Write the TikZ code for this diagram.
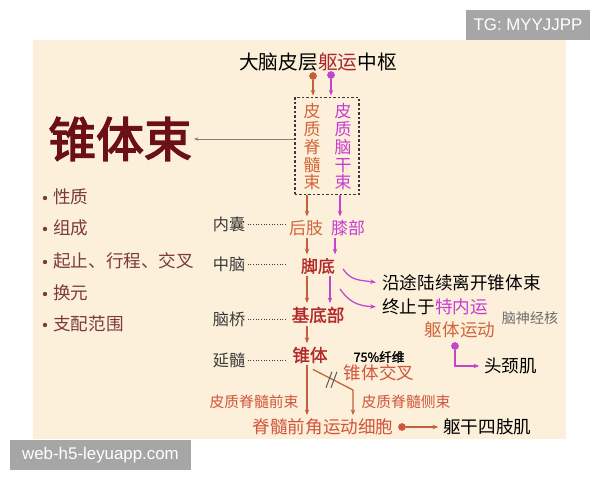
\documentclass[tikz,border=0pt]{standalone}
\usepackage{fontspec}
\newfontfamily\cjk{Noto Sans CJK SC}
\newfontfamily\cjkbf{Noto Sans CJK SC}[FakeBold=1.5]
\newfontfamily\cjkheavy{Noto Sans CJK SC}[FakeBold=3]
\newfontfamily\wmfont{Liberation Sans}
\usetikzlibrary{arrows.meta,calc}
\newcommand\setfs[1]{\fontsize{#1pt}{#1pt}\selectfont}

\definecolor{panelbg}{HTML}{FCF0DA}
\definecolor{darkred}{HTML}{B32828}
\definecolor{orangetxt}{HTML}{D2643C}
\definecolor{redorange}{HTML}{D2543A}
\definecolor{magtxt}{HTML}{C63CD2}
\definecolor{orangeline}{HTML}{C4603C}
\definecolor{magline}{HTML}{C444CC}
\definecolor{browntxt}{HTML}{7B3B3B}
\definecolor{labelgray}{HTML}{3A3A3A}
\definecolor{wmgray}{HTML}{A6A6A6}
\definecolor{titlered}{HTML}{6B1016}
\definecolor{qyred}{HTML}{A8282E}

\tikzset{
  txt/.style={inner sep=1.5pt, font=\cjk\setfs{12.5}},
  vtext/.style={inner sep=0pt, align=center, font=\cjk\fontsize{12pt}{12.6pt}\selectfont},
  lefttxt/.style={txt, font=\cjk\setfs{11.5}, text=labelgray},
  bullettxt/.style={txt, anchor=west, text=browntxt},
  dot/.style={circle, inner sep=0pt, minimum size=5.5pt},
  tip/.style={-{Stealth[length=4pt,width=3.2pt]}},
  oarr/.style={tip, line width=0.9pt, draw=orangeline, shorten >=1pt},
  marr/.style={tip, line width=0.9pt, draw=magline, shorten >=1pt},
  leader/.style={line width=0.7pt, labelgray, dash pattern=on 0.7pt off 1.2pt},
  wmbox/.style={fill=wmgray, text=white, inner sep=0pt, font=\wmfont\setfs{12}}
}

\begin{document}
\begin{tikzpicture}[x=0.025cm,y=-0.025cm]
\useasboundingbox (0,0) rectangle (600,480);

% Panel
\fill[panelbg] (33,40) rectangle (566,439);

% Watermarks
\node[wmbox, minimum width=3.1cm, minimum height=0.75cm] (tg) at (528,25) {TG: MYYJJPP};
\node[wmbox, minimum width=4.525cm, minimum height=0.75cm] (web) at (100.5,455) {web-h5-leyuapp.com};

% Title
\node[txt, font=\cjk\setfs{14}] (title) at (318,62) {大脑皮层\textcolor{qyred}{躯运}中枢};

% Marking the two origins
\node[dot, fill=orangeline] (dotL) at (313,76) {};
\node[dot, fill=magline] (dotR) at (331,75) {};

% Dashed box with both tracts
\node[draw=labelgray, line width=0.8pt, dash pattern=on 1.6pt off 1.6pt,
      minimum width=1.6cm, minimum height=2.425cm] (box) at (327,146) {};
\node[vtext, text=orangetxt] (pjs) at (312,147) {皮\\质\\脊\\髓\\束};
\node[vtext, text=magtxt] (pns) at (343,147) {皮\\质\\脑\\干\\束};
\draw[oarr] (dotL) -- (dotL |- box.north);
\draw[marr] (dotR) -- (dotR |- box.north);

% Big heading and bullets
\node[txt, font=\cjkheavy\setfs{34}, text=titlered] (zts) at (120,139) {锥体束};
\draw[line width=0.5pt, gray, {Stealth[length=3pt,width=2.4pt]}-] (zts.east) -- (zts.east -| box.west);

\node[bullettxt] (b1) at (51,197) {性质};
\node[bullettxt] (b2) at (51,228) {组成};
\node[bullettxt] (b3) at (51,261) {起止、行程、交叉};
\node[bullettxt] (b4) at (51,293) {换元};
\node[bullettxt] (b5) at (51,324) {支配范围};
\fill[browntxt] (45,198) circle (2.2);
\fill[browntxt] (45,229) circle (2.2);
\fill[browntxt] (45,262) circle (2.2);
\fill[browntxt] (45,294) circle (2.2);
\fill[browntxt] (45,325) circle (2.2);

% Levels on the left
\coordinate (lead) at (287,0);
\node[lefttxt] (nn) at (229,224) {内囊};
\node[lefttxt] (zn) at (229,264) {中脑};
\node[lefttxt] (nq) at (229,319) {脑桥};
\node[lefttxt] (ys) at (229,360) {延髓};
\draw[leader] (nn.east) -- (nn.east -| lead);
\draw[leader] (zn.east) -- (zn.east -| lead);
\draw[leader] (nq.east) -- (nq.east -| lead);
\draw[leader] (ys.east) -- (ys.east -| lead);

% Stations along the path
\node[txt, font=\cjk\setfs{12}, text=orangetxt] (hz) at (306,228) {后肢};
\node[txt, font=\cjk\setfs{12}, text=magtxt] (xb) at (348,228) {膝部};
\node[txt, font=\cjkbf\setfs{12}, text=darkred] (jd) at (318,266) {脚底};
\node[txt, font=\cjkbf\setfs{12.5}, text=darkred] (jdb) at (318,315) {基底部};
\node[txt, font=\cjkbf\setfs{12.5}, text=darkred] (zt) at (310,355) {锥体};

% Orange column
\coordinate (ocol) at (307,0);
\draw[oarr] (box.south -| ocol) -- (hz.north -| ocol);
\draw[oarr] (hz.south -| ocol) -- (jd.north -| ocol);
\draw[oarr] (jd.south -| ocol) -- (jdb.north -| ocol);
\draw[oarr] (jdb.south -| ocol) -- (zt.north -| ocol);

% Magenta column
\coordinate (mcol1) at (340,0);
\coordinate (mcol2) at (335,0);
\coordinate (mcol3) at (330,0);
\draw[marr] (box.south -| mcol1) -- (xb.north -| mcol1);
\draw[marr] (xb.south -| mcol2) -- (jd.north -| mcol2);
\draw[marr] (jd.south -| mcol3) -- (jdb.north -| mcol3);

% Branches leaving at the midbrain
\node[txt, anchor=west, text=black] (yt) at (380,283) {沿途陆续离开锥体束};
\node[txt, anchor=west, text=black] (zz) at (380,307) {终止于\textcolor{magtxt}{特内运}};
\coordinate (c1s) at (343,269);
\coordinate (c2s) at (340,289);
\draw[marr, shorten >=3pt] (c1s) .. controls (351,281) and (360,280) .. (yt.west);
\draw[marr, shorten >=3pt] (c2s) .. controls (349,302) and (358,306) .. (zz.west);

% Cranial nerve nuclei
\node[txt, font=\cjk\setfs{10}, text=gray!85!black] (njh) at (530,318) {脑神经核};
\node[txt, text=orangetxt] (qt) at (460,330) {躯体运动};
\node[dot, fill=magline] (dot3) at (455,346) {};
\node[txt, anchor=west, text=black] (tjj) at (482,366) {头颈肌};
\draw[marr, shorten >=2pt] (dot3) |- (tjj.west);

% Decussation
\node[txt, font=\cjkbf\setfs{9}, text=black] (f75) at (379,357) {75\%纤维};
\node[txt, text=redorange] (jcx) at (379,373) {锥体交叉};
\node[txt, font=\cjk\setfs{10.5}, text=redorange] (qq) at (254,402) {皮质脊髓前束};
\node[txt, font=\cjk\setfs{10.5}, text=redorange] (qc) at (406,402) {皮质脊髓侧束};
\node[txt, text=redorange] (qjs) at (323,427) {脊髓前角运动细胞};

\coordinate (zs) at ($(zt.south)+(3,4)$);
\coordinate (bend) at (353,390);
\coordinate (cut) at ($(zs)!0.45!(bend)$);
\draw[oarr] (zt.south -| ocol) -- (qjs.north -| ocol);
\draw[oarr] (zs) -- (bend) -- (bend |- qjs.north);
\draw[line width=0.7pt, gray!70!black] ($(cut)+(-5,9)$) -- ($(cut)+(1,-7)$);
\draw[line width=0.7pt, gray!70!black] ($(cut)+(0,9)$) -- ($(cut)+(6,-7)$);

% Spinal motor neurons to muscles
\node[dot, fill=redorange] (dot4) at (402,427) {};
\node[txt, anchor=west, text=black] (qgs) at (441,427) {躯干四肢肌};
\draw[oarr, shorten >=2pt] (dot4) -- (qgs.west);
\end{tikzpicture}
\end{document}
